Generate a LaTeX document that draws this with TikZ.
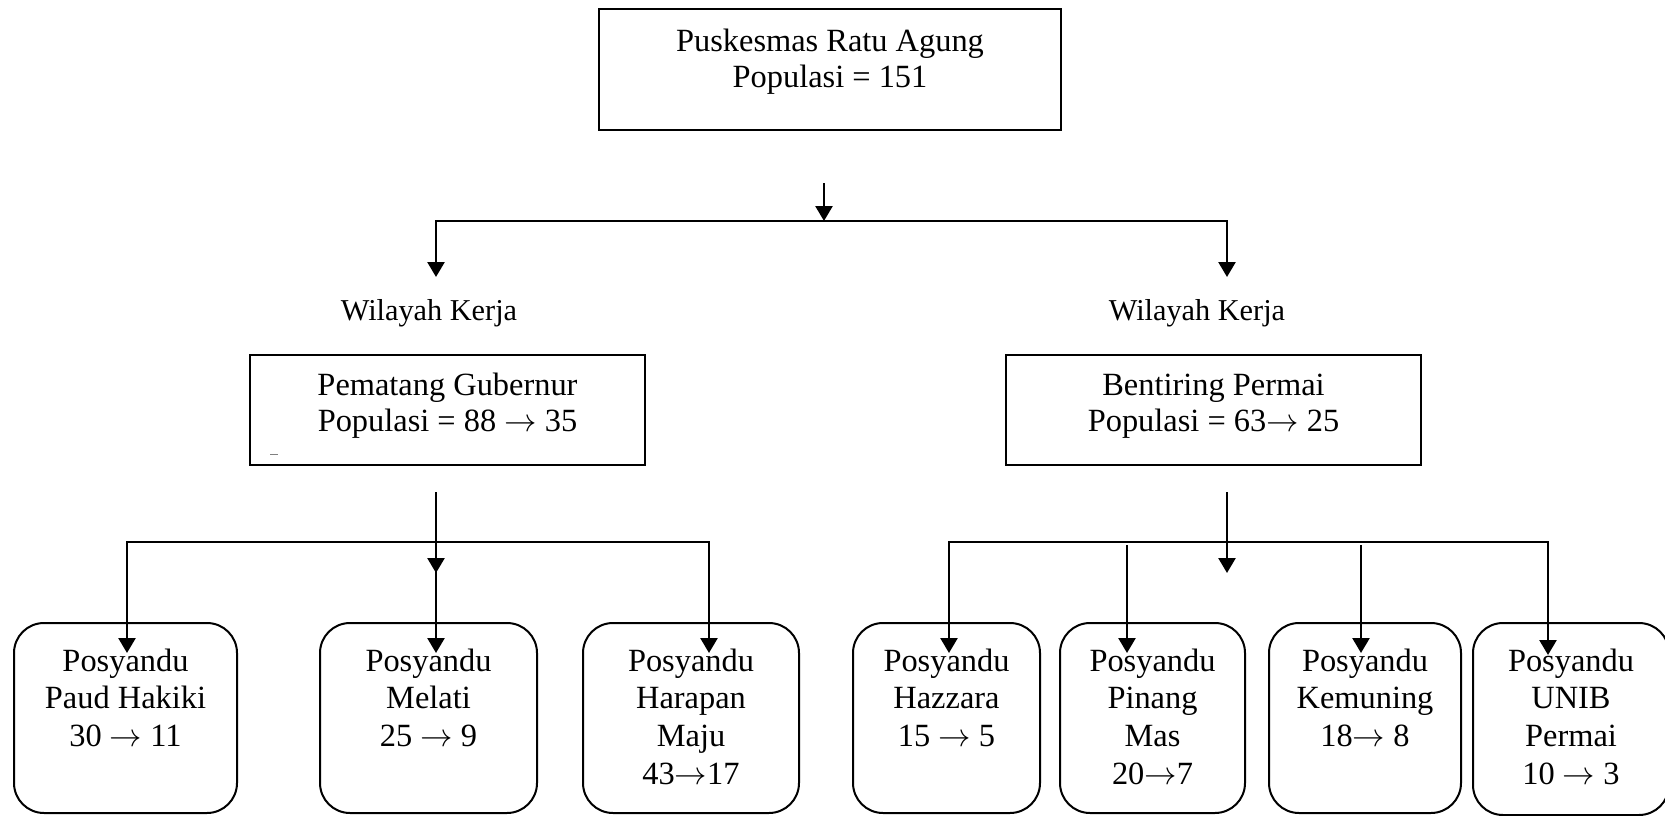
\RequirePackage{fix-cm}
\documentclass[tikz,border=0pt]{standalone}
\usepackage{fontspec}
\setmainfont{Liberation Serif}
\usetikzlibrary{arrows.meta}
\newcommand{\ar}{\ensuremath{\rightarrow}}
\begin{document}
\begin{tikzpicture}[x=1pt,y=-1pt,
  box/.style={draw, line width=2pt, inner sep=0pt},
  rbox/.style={draw, line width=2pt, rounded corners=30pt, inner sep=0pt, minimum height=190pt},
  rtxt/.style={inner sep=0pt, align=center, anchor=north, font=\fontsize{32.4pt}{36.3pt}\selectfont},
  ptxt/.style={inner sep=0pt, align=center, anchor=north, font=\fontsize{32.4pt}{37.8pt}\selectfont},
  lbl/.style={inner sep=0pt, anchor=base, font=\fontsize{30.3pt}{34pt}\selectfont},
  conn/.style={line width=2.6pt, line cap=rect},
  arr/.style={line width=2.6pt, -{Triangle[length=15pt,width=17pt]}}]
\useasboundingbox (0,0) rectangle (1665,816);
\clip (0,0) rectangle (1665,816);

% top box
\node[box, minimum width=462pt, minimum height=121pt] (top) at (830,69.5) {};
\node[rtxt, yshift=-17.6pt] (topT) at (top.north) {\strut Puskesmas Ratu Agung\\Populasi = 151};

% labels
\node[lbl] (wk1) at (429,320) {Wilayah Kerja};
\node[lbl] (wk2) at (1197,320) {Wilayah Kerja};

% second level boxes
\node[box, minimum width=395pt, minimum height=110pt] (pem) at (447.5,410) {};
\node[rtxt, yshift=-15.6pt] (pemT) at (pem.north) {\strut Pematang Gubernur\\Populasi = 88 \ar{} 35};
\node[box, minimum width=415pt, minimum height=110pt] (ben) at (1213.5,410) {};
\node[rtxt, yshift=-15.6pt] (benT) at (ben.north) {\strut Bentiring Permai\\Populasi = 63\ar{} 25};
\draw[line width=0.8pt, gray] (270,454) -- (278,454);

% posyandu boxes
\node[rbox, minimum width=223pt] (p1) at (125.5,718) {};
\node[ptxt, yshift=-22.5pt] (p1T) at (p1.north) {\strut Posyandu\\Paud Hakiki\\30 \ar{} 11};
\node[rbox, minimum width=217pt] (p2) at (428.5,718) {};
\node[ptxt, yshift=-22.5pt] (p2T) at (p2.north) {\strut Posyandu\\Melati\\25 \ar{} 9};
\node[rbox, minimum width=216pt] (p3) at (691,718) {};
\node[ptxt, yshift=-22.5pt] (p3T) at (p3.north) {\strut Posyandu\\Harapan\\Maju\\43\ar{}17};
\node[rbox, minimum width=187pt] (p4) at (946.5,718) {};
\node[ptxt, yshift=-22.5pt] (p4T) at (p4.north) {\strut Posyandu\\Hazzara\\15 \ar{} 5};
\node[rbox, minimum width=185pt] (p5) at (1152.5,718) {};
\node[ptxt, yshift=-22.5pt] (p5T) at (p5.north) {\strut Posyandu\\Pinang\\Mas\\20\ar{}7};
\node[rbox, minimum width=192pt] (p6) at (1365,718) {};
\node[ptxt, yshift=-22.5pt] (p6T) at (p6.north) {\strut Posyandu\\Kemuning\\18\ar{} 8};
\node[rbox, minimum width=196pt, minimum height=192pt] (p7) at (1571,719) {};
\node[ptxt, yshift=-22.5pt] (p7T) at (p7.north) {\strut Posyandu\\UNIB\\Permai\\10 \ar{} 3};

% coordinates
\coordinate (ts) at (824,183);
\coordinate (te) at (824,221);
\coordinate (hL) at (436,221);
\coordinate (hR) at (1227,221);
\coordinate (aL) at (436,277);
\coordinate (aR) at (1227,277);

\coordinate (pemS) at (436,492);
\coordinate (pemE) at (436,573);
\coordinate (benS) at (1227,492);
\coordinate (benE) at (1227,573);

\coordinate (b1) at (127,542);
\coordinate (b2) at (436,542);
\coordinate (b3) at (709,542);
\coordinate (b4) at (949,542);
\coordinate (b5) at (1127,545);
\coordinate (b6) at (1361,545);
\coordinate (b7) at (1548,542);
\coordinate (e1) at (127,653);
\coordinate (e2) at (436,653);
\coordinate (e3) at (709,653);
\coordinate (e4) at (949,653);
\coordinate (e5) at (1127,653);
\coordinate (e6) at (1361,653);
\coordinate (e7) at (1548,655);

% connectors top
\draw[arr] (ts) -- (te);
\draw[conn] (hL) -- (hR);
\draw[arr] (hL) -- (aL);
\draw[arr] (hR) -- (aR);

% left group
\draw[arr] (pemS) -- (pemE);
\draw[conn] (b1) -- (b3);
\draw[arr] (b1) -- (e1);
\draw[arr] (b2) -- (e2);
\draw[arr] (b3) -- (e3);

% right group
\draw[arr] (benS) -- (benE);
\draw[conn] (b4) -- (b7);
\draw[arr] (b4) -- (e4);
\draw[arr] (b5) -- (e5);
\draw[arr] (b6) -- (e6);
\draw[arr] (b7) -- (e7);
\end{tikzpicture}
\end{document}
